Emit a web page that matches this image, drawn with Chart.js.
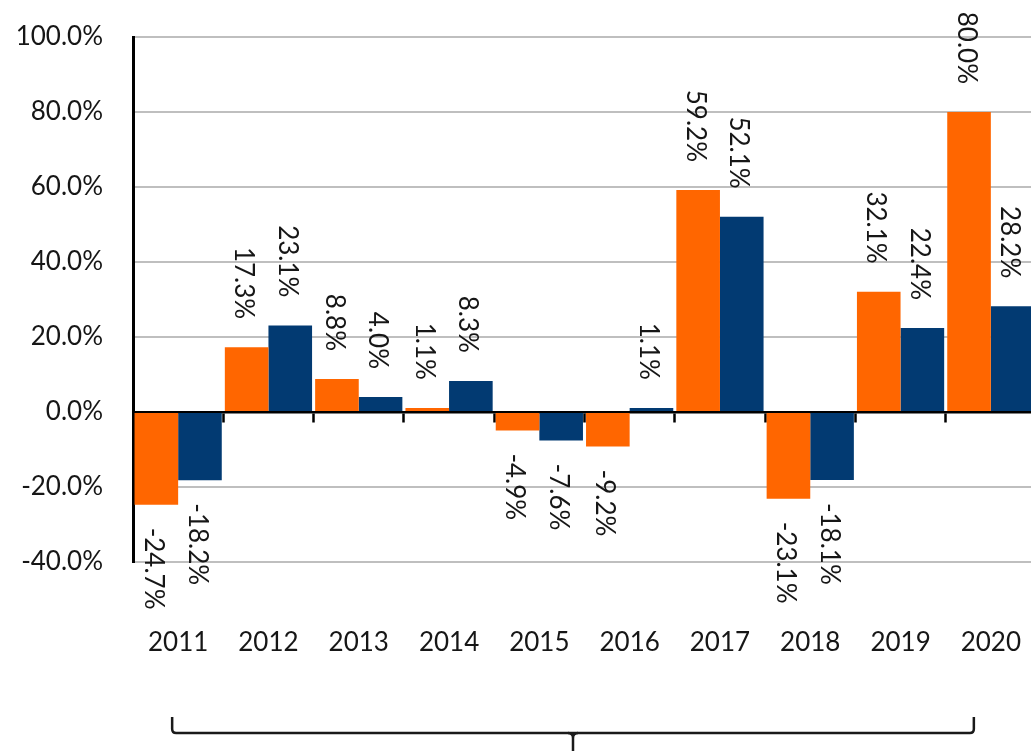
<!DOCTYPE html>
<html>
<head>
<meta charset="utf-8">
<title>Annual returns</title>
<script src="https://cdn.jsdelivr.net/npm/chart.js@4.4.1/dist/chart.umd.min.js"></script>
<style>
  html, body { margin: 0; padding: 0; background: #fff; overflow: hidden; }
  canvas { display: block; }
</style>
</head>
<body>
<canvas id="returnsChart" width="1040" height="751"></canvas>
<script>
// values (percent)
const years = ['2011', '2012', '2013', '2014', '2015', '2016', '2017', '2018', '2019', '2020'];
const orangeReturns = [-24.7, 17.3, 8.8, 1.1, -4.9, -9.2, 59.2, -23.1, 32.1, 80.0];
const blueReturns = [-18.2, 23.1, 4.0, 8.3, -7.6, 1.1, 52.1, -18.1, 22.4, 28.2];
const yMin = -40, yMax = 100, yStep = 20;

const textColor = '#161616';
const fontFamily = 'Lato, "Liberation Sans", sans-serif';

// rotated value labels at the end of every bar
const barLabels = {
    id: 'barLabels',
    afterDatasetsDraw(chart) {
        const ctx = chart.ctx;
        ctx.save();
        ctx.font = '26px ' + fontFamily;
        ctx.fillStyle = textColor;
        ctx.textBaseline = 'middle';
        chart.data.datasets.forEach((ds, i) => {
            chart.getDatasetMeta(i).data.forEach((bar, j) => {
                const v = ds.data[j];
                const txt = v.toFixed(1) + '%';
                ctx.save();
                ctx.translate(bar.x - 3, bar.y);
                ctx.rotate(Math.PI / 2);
                if (v >= 0) {
                    ctx.textAlign = 'right';
                    ctx.fillText(txt, -28, 0);
                } else {
                    ctx.textAlign = 'left';
                    ctx.fillText(txt, 23, 0);
                }
                ctx.restore();
            });
        });
        ctx.restore();
    }
};

// bracket under the year labels
const bracket = {
    id: 'bracket',
    afterDraw(chart) {
        const ctx = chart.ctx;
        const x = chart.scales.x;
        const left = x.getPixelForValue(0) - 6;
        const right = x.getPixelForValue(years.length - 1) - 17;
        const mid = (left + right) / 2;
        const top = 717, base = 733, r = 4;
        ctx.save();
        ctx.strokeStyle = '#1a1a1a';
        ctx.lineWidth = 2.5;
        ctx.beginPath();
        ctx.moveTo(left, top);
        ctx.lineTo(left, base - r);
        ctx.quadraticCurveTo(left, base, left + r, base);
        ctx.lineTo(right - r, base);
        ctx.quadraticCurveTo(right, base, right, base - r);
        ctx.lineTo(right, top);
        ctx.stroke();
        ctx.beginPath();
        ctx.moveTo(mid - 5, base);
        ctx.quadraticCurveTo(mid, base, mid, base + 5);
        ctx.lineTo(mid, 760);
        ctx.moveTo(mid + 5, base);
        ctx.quadraticCurveTo(mid, base, mid, base + 5);
        ctx.stroke();
        ctx.restore();
    }
};

function noPadding(scale) {
    scale.paddingLeft = 0;
    scale.paddingRight = 0;
    scale.paddingTop = 0;
    scale.paddingBottom = 0;
}

const ctx = document.getElementById('returnsChart').getContext('2d');

new Chart(ctx, {
    type: 'bar',
    data: {
        labels: years,
        datasets: [
            {
                label: 'Series 1',
                data: orangeReturns,
                backgroundColor: '#FF6600',
                categoryPercentage: 0.966,
                barPercentage: 1.0
            },
            {
                label: 'Series 2',
                data: blueReturns,
                backgroundColor: '#023A72',
                categoryPercentage: 0.966,
                barPercentage: 1.0
            }
        ]
    },
    options: {
        responsive: false,
        animation: false,
        layout: {
            padding: { top: 37, right: 4, left: 0, bottom: 0 }
        },
        scales: {
            x: {
                type: 'category',
                position: 'bottom',
                grid: { display: false },
                border: { display: false },
                ticks: {
                    color: textColor,
                    font: { family: fontFamily, size: 26 },
                    padding: 57,
                    maxRotation: 0,
                    autoSkip: false
                },
                afterFit: function(scale) { scale.height = 189; noPadding(scale); }
            },
            x0: {
                type: 'category',
                position: { y: 0 },
                offset: true,
                z: 1,
                grid: {
                    drawOnChartArea: false,
                    drawTicks: true,
                    tickLength: 9,
                    tickWidth: 2.5,
                    tickColor: '#000',
                    offset: true
                },
                border: { display: true, color: '#000', width: 2.5 },
                ticks: { display: false },
                afterFit: noPadding
            },
            y: {
                min: yMin,
                max: yMax,
                ticks: {
                    stepSize: yStep,
                    color: textColor,
                    font: { family: fontFamily, size: 26 },
                    padding: 30,
                    callback: v => v.toFixed(1) + '%'
                },
                grid: {
                    color: '#BFBFBF',
                    lineWidth: 2,
                    drawTicks: false
                },
                border: { display: true, color: '#000', width: 3 },
                afterFit: function(scale) { scale.width = 133; noPadding(scale); }
            }
        },
        plugins: {
            legend: { display: false },
            tooltip: { enabled: false },
            title: { display: false }
        }
    },
    plugins: [barLabels, bracket]
});
</script>
</body>
</html>
